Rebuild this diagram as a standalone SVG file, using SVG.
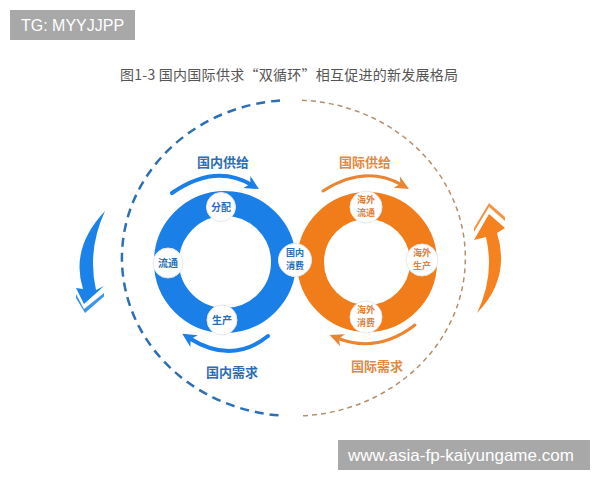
<svg xmlns="http://www.w3.org/2000/svg" width="600" height="480" viewBox="0 0 600 480">
<style>
.cjk{font-family:"Noto Sans CJK SC","Noto Sans",sans-serif}
.lat{font-family:"Liberation Sans",Arial,sans-serif}
.node{fill:#ffffff;stroke:#e4e8ee;stroke-width:1}
.nb{font-size:10px;font-weight:bold;fill:#2a6db5;text-anchor:middle}
.no{font-size:10px;font-weight:bold;fill:#e0803a;text-anchor:middle}
.s2{font-size:9px}
.lb{font-size:13px;font-weight:bold;fill:#2a6db5;text-anchor:middle}
.lo{font-size:13px;font-weight:bold;fill:#e08a45;text-anchor:middle}
.ab{fill:none;stroke:#1a7fe6;stroke-width:4;stroke-linecap:round}
.ao{fill:none;stroke:#ea8532;stroke-width:3;stroke-linecap:round}
</style>
<defs>
<marker id="hb" markerUnits="userSpaceOnUse" markerWidth="16" markerHeight="16" refX="6" refY="8" orient="auto">
<path d="M0,1 L14,8 L0,15 L4,8 Z" fill="#1a7fe6"/>
</marker>
<marker id="ho" markerUnits="userSpaceOnUse" markerWidth="16" markerHeight="16" refX="6" refY="8" orient="auto">
<path d="M0,1.5 L14,8 L0,14.5 L4,8 Z" fill="#ea8532"/>
</marker>
</defs>
<rect width="600" height="480" fill="#ffffff"/>

<text class="cjk" x="120" y="80" font-size="14" fill="#555555" textLength="338">图1-3 国内国际供求“双循环”相互促进的新发展格局</text>

<!-- big dashed ellipse -->
<g id="outer-cycle">
<path d="M280,100.5 A172 158 0 0 0 282,415.6" fill="none" stroke="#2d6fb5" stroke-width="2.5" stroke-dasharray="9 6"/>
<path d="M302,100.2 A172 158 0 0 1 302,415.8" fill="none" stroke="#b3906e" stroke-width="1.5" stroke-dasharray="5 4"/>
</g>

<!-- side arrows -->
<g id="left-arrow" fill="#1a82e8">
<path d="M105,211 Q70,248 83,289 L76,288 L84,304 L104,286 L96,290 Q87,250 105,211 Z"/>
<path d="M76,294 L84,309 L104,293 L104,296.5 L85,313 L76,298 Z" opacity="0.85"/>
</g>
<g id="right-arrow" fill="#f5821f">
<path d="M477,313 Q495,276 486,237 L474,240 L489,214 L505,228 L497,233 Q511,278 477,313 Z"/>
<path d="M474,232 L489,207 L505,221 L505,217 L489,203 L474,228 Z" opacity="0.85"/>
</g>

<!-- rings -->
<g id="intl-ring">
<circle cx="367" cy="262" r="56.5" fill="none" stroke="#f07d1a" stroke-width="27"/>
</g>
<g id="dom-ring">
<circle cx="225" cy="262" r="58.5" fill="none" stroke="#1a7fe6" stroke-width="25"/>
</g>

<!-- connectors -->
<g id="connectors">
<path class="ab" d="M172,193 Q215,163 252,185" marker-end="url(#hb)"/>
<path class="ao" d="M323,191 Q365,164 402,185" marker-end="url(#ho)"/>
<path class="ab" d="M268,336 Q232,365 189,338" marker-end="url(#hb)"/>
<path class="ao" d="M415,325 Q377,354 337,338" marker-end="url(#ho)"/>
</g>

<!-- labels -->
<g id="label-dom-supply"><text class="cjk lb" x="223" y="167">国内供给</text></g>
<g id="label-intl-supply"><text class="cjk lo" x="365" y="167">国际供给</text></g>
<g id="label-dom-demand"><text class="cjk lb" x="232" y="377">国内需求</text></g>
<g id="label-intl-demand"><text class="cjk lo" x="377" y="371">国际需求</text></g>

<!-- nodes -->
<g id="node-fenpei"><circle class="node" cx="221" cy="207" r="14.5"/><text class="cjk nb" x="221" y="211">分配</text></g>
<g id="node-liutong"><circle class="node" cx="168" cy="263" r="15"/><text class="cjk nb" x="168" y="267">流通</text></g>
<g id="node-shengchan"><circle class="node" cx="222" cy="320" r="15"/><text class="cjk nb" x="222" y="324">生产</text></g>
<g id="node-guoneixiaofei"><circle class="node" cx="295" cy="260" r="16.5"/><text class="cjk nb s2" x="295" y="256">国内</text><text class="cjk nb s2" x="295" y="269">消费</text></g>
<g id="node-haiwailiutong"><circle class="node" cx="366" cy="207" r="16"/><text class="cjk no s2" x="366" y="203">海外</text><text class="cjk no s2" x="366" y="216">流通</text></g>
<g id="node-haiwaishengchan"><circle class="node" cx="422" cy="260" r="16"/><text class="cjk no s2" x="422" y="256">海外</text><text class="cjk no s2" x="422" y="269">生产</text></g>
<g id="node-haiwaixiaofei"><circle class="node" cx="366" cy="317" r="16"/><text class="cjk no s2" x="366" y="313">海外</text><text class="cjk no s2" x="366" y="326">消费</text></g>

<!-- watermarks -->
<rect x="10" y="10" width="125" height="30" fill="#a8a8a8"/>
<text class="lat" x="21" y="31" font-size="16" fill="#ffffff">TG: MYYJJPP</text>
<rect x="338" y="440" width="252" height="30" fill="#a8a8a8"/>
<text class="lat" x="348" y="461" font-size="17" fill="#ffffff">www.asia-fp-kaiyungame.com</text>
</svg>
